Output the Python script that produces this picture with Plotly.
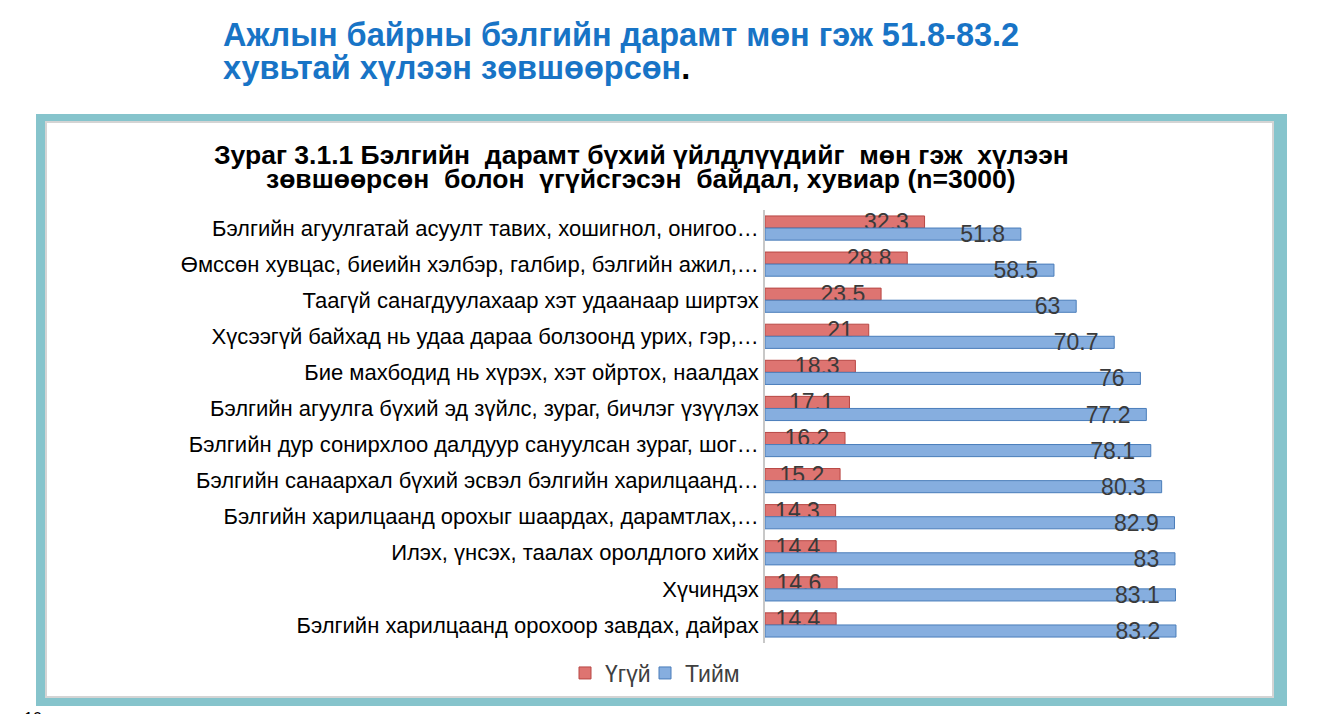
import plotly.graph_objects as go

# ---------------- data ----------------
categories = [
    "Бэлгийн агуулгатай асуулт тавих, хошигнол, онигоо…",
    "Өмссөн хувцас, биеийн хэлбэр, галбир, бэлгийн ажил,…",
    "Таагүй санагдуулахаар хэт удаанаар ширтэх",
    "Хүсээгүй байхад нь удаа дараа болзоонд урих, гэр,…",
    "Бие махбодид нь хүрэх, хэт ойртох, наалдах",
    "Бэлгийн агуулга бүхий эд зүйлс, зураг, бичлэг үзүүлэх",
    "Бэлгийн дур сонирхлоо далдуур сануулсан зураг, шог…",
    "Бэлгийн санаархал бүхий эсвэл бэлгийн харилцаанд…",
    "Бэлгийн харилцаанд орохыг шаардах, дарамтлах,…",
    "Илэх, үнсэх, таалах оролдлого хийх",
    "Хүчиндэх",
    "Бэлгийн харилцаанд орохоор завдах, дайрах",
]
no_values = [32.3, 28.8, 23.5, 21, 18.3, 17.1, 16.2, 15.2, 14.3, 14.4, 14.6, 14.4]
yes_values = [51.8, 58.5, 63, 70.7, 76, 77.2, 78.1, 80.3, 82.9, 83, 83.1, 83.2]
series_names = ["Үгүй", "Тийм"]

headline_1 = "Ажлын байрны бэлгийн дарамт мөн гэж 51.8-83.2"
headline_2 = "хувьтай хүлээн зөвшөөрсөн"
chart_title_1 = "Зураг 3.1.1 Бэлгийн  дарамт бүхий үйлдлүүдийг  мөн гэж  хүлээн"
chart_title_2 = "зөвшөөрсөн  болон  үгүйсгэсэн  байдал, хувиар (n=3000)"
page_number = "10"

# ---------------- layout helpers ----------------
W, H = 1326, 714
OFF = 8  # page body margin of the html page
def PX(x):
    return (x - OFF) / W
def PY(y):
    return 1 - (y - OFF) / H

FONT = "Liberation Sans, Arial, sans-serif"
RED_FILL, RED_LINE = "#DE7471", "#B84744"
BLUE_FILL, BLUE_LINE = "#86AEDF", "#4A7DBA"

fig = go.Figure()
for name, vals, fill, line, lg in [
    (series_names[0], no_values, RED_FILL, RED_LINE, "legend"),
    (series_names[1], yes_values, BLUE_FILL, BLUE_LINE, "legend2"),
]:
    fig.add_trace(go.Bar(
        name=name,
        y=categories,
        x=vals,
        orientation="h",
        legend=lg,
        marker=dict(color=fill, line=dict(color=line, width=1)),
        texttemplate="%{x}\u00a0\u00a0",
        textposition="inside",
        insidetextanchor="end",
        constraintext="none",
        textfont=dict(family=FONT, size=23, color="#3A3A3A"),
        hoverinfo="skip",
    ))

shapes = [
    dict(type="rect", xref="paper", yref="paper", layer="below",
         x0=PX(36), x1=PX(1287), y0=PY(706), y1=PY(114),
         fillcolor="#86C4CC", line=dict(width=0)),
    dict(type="rect", xref="paper", yref="paper", layer="below",
         x0=PX(46), x1=PX(1273), y0=PY(697), y1=PY(122),
         fillcolor="white", line=dict(color="#D4D4D4", width=2)),
]

annotations = [
    dict(text=headline_1, x=PX(221), y=PY(35), xref="paper", yref="paper",
         xanchor="left", yanchor="middle", showarrow=False,
         font=dict(family=FONT, size=32.5, color="#1874C6", weight="bold")),
    dict(text=headline_2 + '<span style="color:#000000">.</span>', x=PX(221), y=PY(68),
         xref="paper", yref="paper", xanchor="left", yanchor="middle", showarrow=False,
         font=dict(family=FONT, size=32.5, color="#1874C6", weight="bold")),
    dict(text=chart_title_1, x=PX(641), y=PY(155), xref="paper", yref="paper",
         xanchor="center", yanchor="middle", showarrow=False,
         font=dict(family=FONT, size=26.5, color="#000000", weight="bold")),
    dict(text=chart_title_2, x=PX(641), y=PY(179), xref="paper", yref="paper",
         xanchor="center", yanchor="middle", showarrow=False,
         font=dict(family=FONT, size=26.5, color="#000000", weight="bold")),
    dict(text=page_number, x=PX(22), y=PY(708), xref="paper", yref="paper",
         xanchor="left", yanchor="top", showarrow=False,
         font=dict(family=FONT, size=16, color="#000000")),
]

legend_common = dict(orientation="h", yanchor="middle", xanchor="left",
                     font=dict(family=FONT, size=23, color="#404040"),
                     bgcolor="rgba(0,0,0,0)")

fig.update_layout(
    width=W, height=H,
    margin=dict(l=0, r=0, t=0, b=0),
    paper_bgcolor="white",
    plot_bgcolor="rgba(0,0,0,0)",
    barmode="group",
    bargap=0.33,
    bargroupgap=0,
    uniformtext=dict(minsize=23, mode="show"),
    showlegend=True,
    legend=dict(x=PX(565), y=PY(673), **legend_common),
    legend2=dict(x=PX(645), y=PY(673), **legend_common),
    shapes=shapes,
    annotations=annotations,
    xaxis=dict(domain=[PX(765), PX(1214.5)], range=[0, 91], visible=False,
               showgrid=False, zeroline=False),
    yaxis=dict(domain=[PY(643), PY(210)], autorange="reversed", type="category",
               showline=True, linecolor="#C8C8C8", linewidth=1.5,
               showgrid=False, zeroline=False, ticks="",
               tickfont=dict(family=FONT, size=22, color="#000000"),
               automargin=False),
)

fig.write_html("out.html")
